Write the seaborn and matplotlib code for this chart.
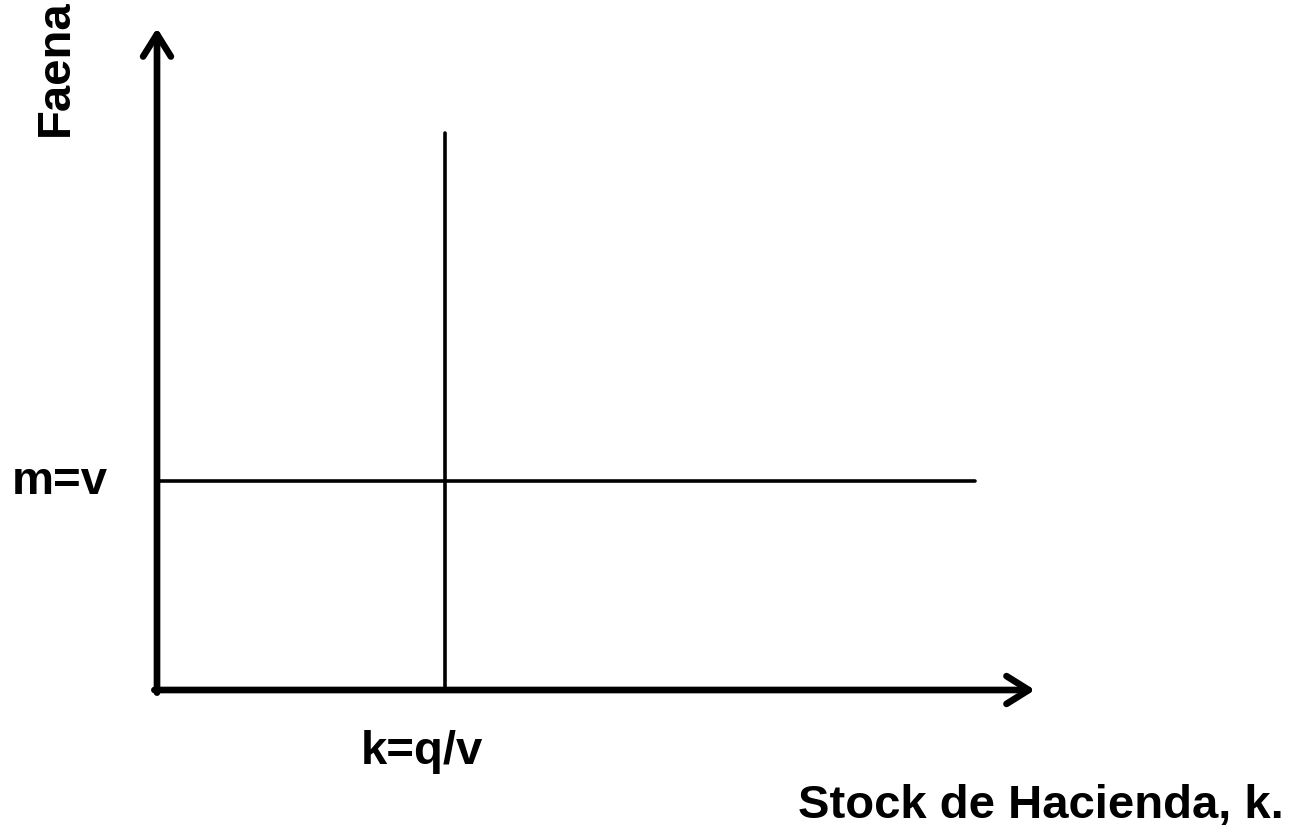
import matplotlib
matplotlib.use("Agg")
import matplotlib.pyplot as plt
import seaborn as sns
import pandas as pd

# Data (in axis units 0..10)
x_axis_max = 10.0
y_axis_max = 10.0
k_value = 3.28          # k = q/v
k_line_top = 8.42
m_value = 3.16          # m = v
m_line_end = 9.32

vline = pd.DataFrame({"x": [k_value, k_value], "y": [0.0, k_line_top]})
hline = pd.DataFrame({"x": [0.0, m_line_end], "y": [m_value, m_value]})

sns.set_theme(style="white")
plt.rcParams["font.family"] = ["Liberation Sans", "DejaVu Sans"]

W, H = 1301, 836
fig = plt.figure(figsize=(W / 100, H / 100), dpi=100)
x0, x1 = 157, 1035
y0, y1 = 690, 28
ax = fig.add_axes([x0 / W, (H - y0) / H, (x1 - x0) / W, (y0 - y1) / H])
ax.set_xlim(0, x_axis_max)
ax.set_ylim(0, y_axis_max)
for s in ax.spines.values():
    s.set_visible(False)
ax.set_xticks([])
ax.set_yticks([])
ax.patch.set_alpha(0)

sns.lineplot(data=vline, x="x", y="y", ax=ax, color="black", linewidth=2.6, estimator=None, sort=False)
sns.lineplot(data=hline, x="x", y="y", ax=ax, color="black", linewidth=2.6, estimator=None, sort=False)
ax.set_xlabel("")
ax.set_ylabel("")

arrow = dict(arrowstyle="->,head_length=0.4,head_width=0.25", color="black",
             lw=4.8, shrinkA=0, shrinkB=0, mutation_scale=40, capstyle="round")
ax.annotate("", xy=(0, y_axis_max), xytext=(0, -0.04), arrowprops=arrow, annotation_clip=False)
ax.annotate("", xy=(x_axis_max, 0), xytext=(-0.03, 0), arrowprops=arrow, annotation_clip=False)

def ft(px, py, s, **kw):
    fig.text(px / W, 1 - py / H, s, fontsize=34, fontweight="bold", color="black", **kw)

ft(56, 68, "Faena", rotation=90, ha="center", va="center")
ft(60, 482, "m=v", ha="center", va="center")
ft(422, 752, "k=q/v", ha="center", va="center")
ft(1041, 806, "Stock de Hacienda, k.", ha="center", va="center")

fig.savefig("out.png", dpi=100)
